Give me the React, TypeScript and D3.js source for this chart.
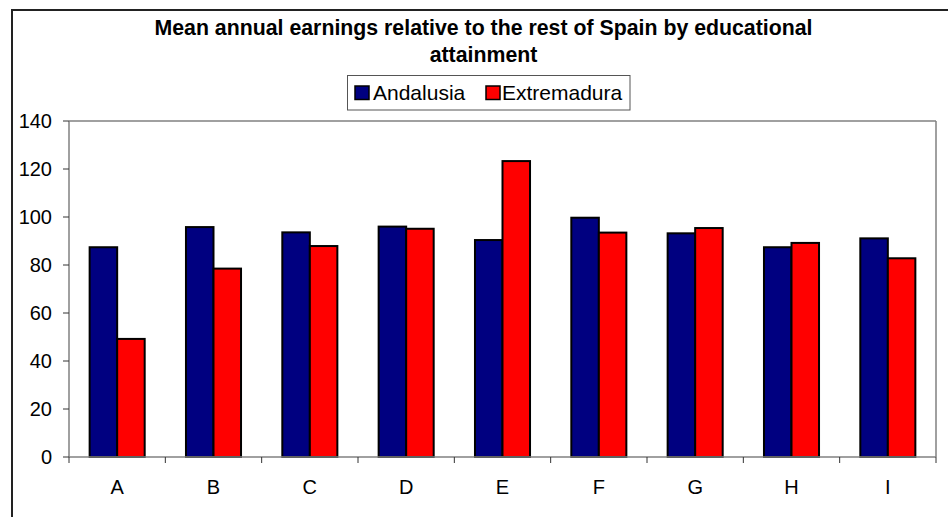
import React from "react";
import * as d3 from "d3";

const categories = ["A", "B", "C", "D", "E", "F", "G", "H", "I"];
const seriesNames = ["Andalusia", "Extremadura"];
const andalusia = [87.4, 95.8, 93.6, 96.0, 90.4, 99.7, 93.2, 87.4, 91.1];
const extremadura = [49.2, 78.5, 87.9, 95.1, 123.3, 93.5, 95.4, 89.2, 82.8];
const yTicks = [0, 20, 40, 60, 80, 100, 120, 140];
const colors = ["#000080", "#FF0000"];
const titleLines = [
  "Mean annual earnings relative to the rest of Spain by educational",
  "attainment",
];

const W = 948;
const H = 517;
const plot = { left: 69, right: 936, top: 121, bottom: 457 };
const font = "'Liberation Sans', Arial, sans-serif";

export default function App() {
  const x0 = d3
    .scaleBand<string>()
    .domain(categories)
    .range([plot.left, plot.right])
    .paddingInner(1.5 / 3.5)
    .paddingOuter(0.75 / 3.5);
  const x1 = d3
    .scaleBand<string>()
    .domain(seriesNames)
    .range([0, x0.bandwidth()]);
  const y = d3.scaleLinear().domain([0, 140]).range([plot.bottom, plot.top]);
  const seriesValues = [andalusia, extremadura];

  const legendItems = [
    { name: seriesNames[0], sx: 355, tx: 373 },
    { name: seriesNames[1], sx: 486, tx: 502 },
  ];

  return (
    <svg
      width={W}
      height={H}
      style={{ position: "absolute", left: 0, top: 0, background: "#fff" }}
    >
      <rect x={0} y={0} width={W} height={H} fill="#fff" />
      <rect
        x={12}
        y={10}
        width={960}
        height={540}
        fill="none"
        stroke="#222"
        strokeWidth={2}
      />
      {titleLines.map((t, i) => (
        <text
          key={i}
          x={483.5}
          y={35 + i * 27}
          textAnchor="middle"
          fontFamily={font}
          fontWeight="bold"
          fontSize={21.3}
          fill="#000"
        >
          {t}
        </text>
      ))}
      {/* legend */}
      <rect x={347.5} y={75.5} width={282.5} height={34.5} fill="#fff" stroke="#555" strokeWidth={1} />
      {legendItems.map((it, i) => (
        <g key={it.name}>
          <rect x={it.sx} y={86} width={14} height={13.5} fill={colors[i]} stroke="#000" strokeWidth={1.5} />
          <text x={it.tx} y={99.5} fontFamily={font} fontSize={21} fill="#000">
            {it.name}
          </text>
        </g>
      ))}
      {/* plot frame */}
      <line x1={plot.left} x2={plot.right} y1={plot.top} y2={plot.top} stroke="#808080" strokeWidth={1.5} />
      <line x1={plot.right} x2={plot.right} y1={plot.top} y2={plot.bottom} stroke="#808080" strokeWidth={1.5} />
      {/* bars */}
      {categories.map((c, ci) => (
        <g key={c}>
          {seriesNames.map((s, si) => {
            const v = seriesValues[si][ci];
            const bx = (x0(c) as number) + (x1(s) as number);
            return (
              <rect
                key={s}
                x={bx}
                y={y(v)}
                width={x1.bandwidth()}
                height={y(0) - y(v)}
                fill={colors[si]}
                stroke="#000"
                strokeWidth={2}
              />
            );
          })}
        </g>
      ))}
      {/* axes */}
      <line x1={plot.left} x2={plot.left} y1={plot.top} y2={plot.bottom} stroke="#808080" strokeWidth={1.5} />
      <line x1={plot.left} x2={plot.right} y1={plot.bottom} y2={plot.bottom} stroke="#808080" strokeWidth={1.5} />
      {yTicks.map((t) => (
        <g key={t}>
          <line x1={plot.left - 6} x2={plot.left} y1={y(t)} y2={y(t)} stroke="#333" strokeWidth={1} />
          <text
            x={52}
            y={y(t) + 7}
            textAnchor="end"
            fontFamily={font}
            fontSize={20}
            fill="#000"
          >
            {t}
          </text>
        </g>
      ))}
      {d3.range(categories.length + 1).map((i) => {
        const tx = plot.left + (i * (plot.right - plot.left)) / categories.length;
        return (
          <line key={i} x1={tx} x2={tx} y1={plot.bottom} y2={plot.bottom + 6} stroke="#333" strokeWidth={1} />
        );
      })}
      {categories.map((c) => (
        <text
          key={c}
          x={(x0(c) as number) + x0.bandwidth() / 2}
          y={494}
          textAnchor="middle"
          fontFamily={font}
          fontSize={20}
          fill="#000"
        >
          {c}
        </text>
      ))}
    </svg>
  );
}
